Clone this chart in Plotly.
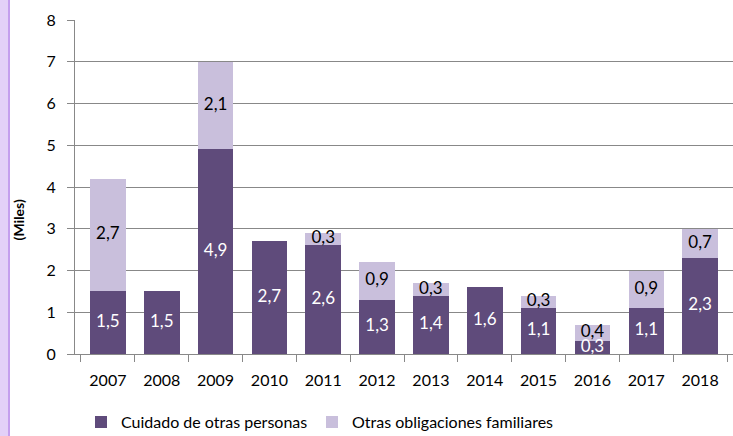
import plotly.graph_objects as go

years = ["2007", "2008", "2009", "2010", "2011", "2012", "2013", "2014", "2015", "2016", "2017", "2018"]
cuidado = [1.5, 1.5, 4.9, 2.7, 2.6, 1.3, 1.4, 1.6, 1.1, 0.3, 1.1, 2.3]
otras = [2.7, 0, 2.1, 0, 0.3, 0.9, 0.3, 0, 0.3, 0.4, 0.9, 0.7]

DARK = "#5F4B7B"
LIGHT = "#C9BFDC"
FONT = "Lato"

W, H = 733, 436
L, R, T, B = 75, 0, 20, 82

def fmt(v):
    return f"{v:.1f}".replace(".", ",")

fig = go.Figure()
fig.add_trace(go.Bar(x=years, y=cuidado, name="Cuidado de otras personas",
                     marker=dict(color=DARK, line=dict(width=0)), legend="legend"))
fig.add_trace(go.Bar(x=years, y=otras, name="Otras obligaciones familiares",
                     marker=dict(color=LIGHT, line=dict(width=0)), legend="legend2"))

# labels
lx, ly, lt = [], [], []
for yr, c in zip(years, cuidado):
    lx.append(yr); ly.append(c / 2); lt.append(fmt(c))
fig.add_trace(go.Scatter(x=lx, y=ly, text=lt, mode="text", showlegend=False,
                         textfont=dict(color="white", size=17, family=FONT),
                         hoverinfo="skip"))
lx2, ly2, lt2 = [], [], []
for yr, c, o in zip(years, cuidado, otras):
    if o > 0:
        lx2.append(yr); ly2.append(c + o / 2); lt2.append(fmt(o))
fig.add_trace(go.Scatter(x=lx2, y=ly2, text=lt2, mode="text", showlegend=False,
                         textfont=dict(color="black", size=17, family=FONT),
                         hoverinfo="skip"))

pw = W - L - R
fig.add_shape(type="rect", xref="paper", yref="paper", x0=-L / pw, x1=-(L - 8) / pw,
              y0=-2, y1=2, fillcolor="#E3D0F8", line=dict(width=0), layer="below")
fig.add_shape(type="rect", xref="paper", yref="paper", x0=-(L - 8) / pw, x1=-(L - 10) / pw,
              y0=-2, y1=2, fillcolor="#C49EEE", line=dict(width=0), layer="below")

fig.add_annotation(text="<b>(Miles)</b>", xref="paper", yref="paper",
                   x=-(L - 18) / pw, y=0.40, textangle=-90, showarrow=False,
                   xanchor="center", yanchor="middle",
                   font=dict(size=14, family=FONT, color="black"))

leg_common = dict(orientation="h", xanchor="left", y=-0.204, yanchor="middle",
                  font=dict(size=16, family=FONT), itemwidth=30, bgcolor="rgba(0,0,0,0)")

fig.update_layout(
    width=W, height=H,
    margin=dict(l=L, r=R, t=T, b=B, autoexpand=False),
    barmode="stack", bargap=0.34,
    plot_bgcolor="white", paper_bgcolor="white",
    font=dict(family=FONT, size=16, color="black"),
    showlegend=True,
    legend=dict(x=(81 - L) / pw, **leg_common),
    legend2=dict(x=(312 - L) / pw, **leg_common),
    xaxis=dict(showline=True, linecolor="#888888", linewidth=1, ticks="outside",
               tickson="boundaries", ticklen=7, tickcolor="#888888",
               tickfont=dict(size=16, family=FONT), showgrid=False, automargin=False,
               ticklabelstandoff=12),
    yaxis=dict(range=[0, 8], dtick=1, showline=True, linecolor="#888888", linewidth=1,
               ticks="outside", ticklen=7, tickcolor="#888888",
               showgrid=True, gridcolor="#888888", gridwidth=1,
               tickfont=dict(size=16, family=FONT), zeroline=False, automargin=False,
               ticklabelstandoff=8),
)

fig.write_html("out.html", config={"displayModeBar": False},
               post_script="document.body.style.margin='0';")
